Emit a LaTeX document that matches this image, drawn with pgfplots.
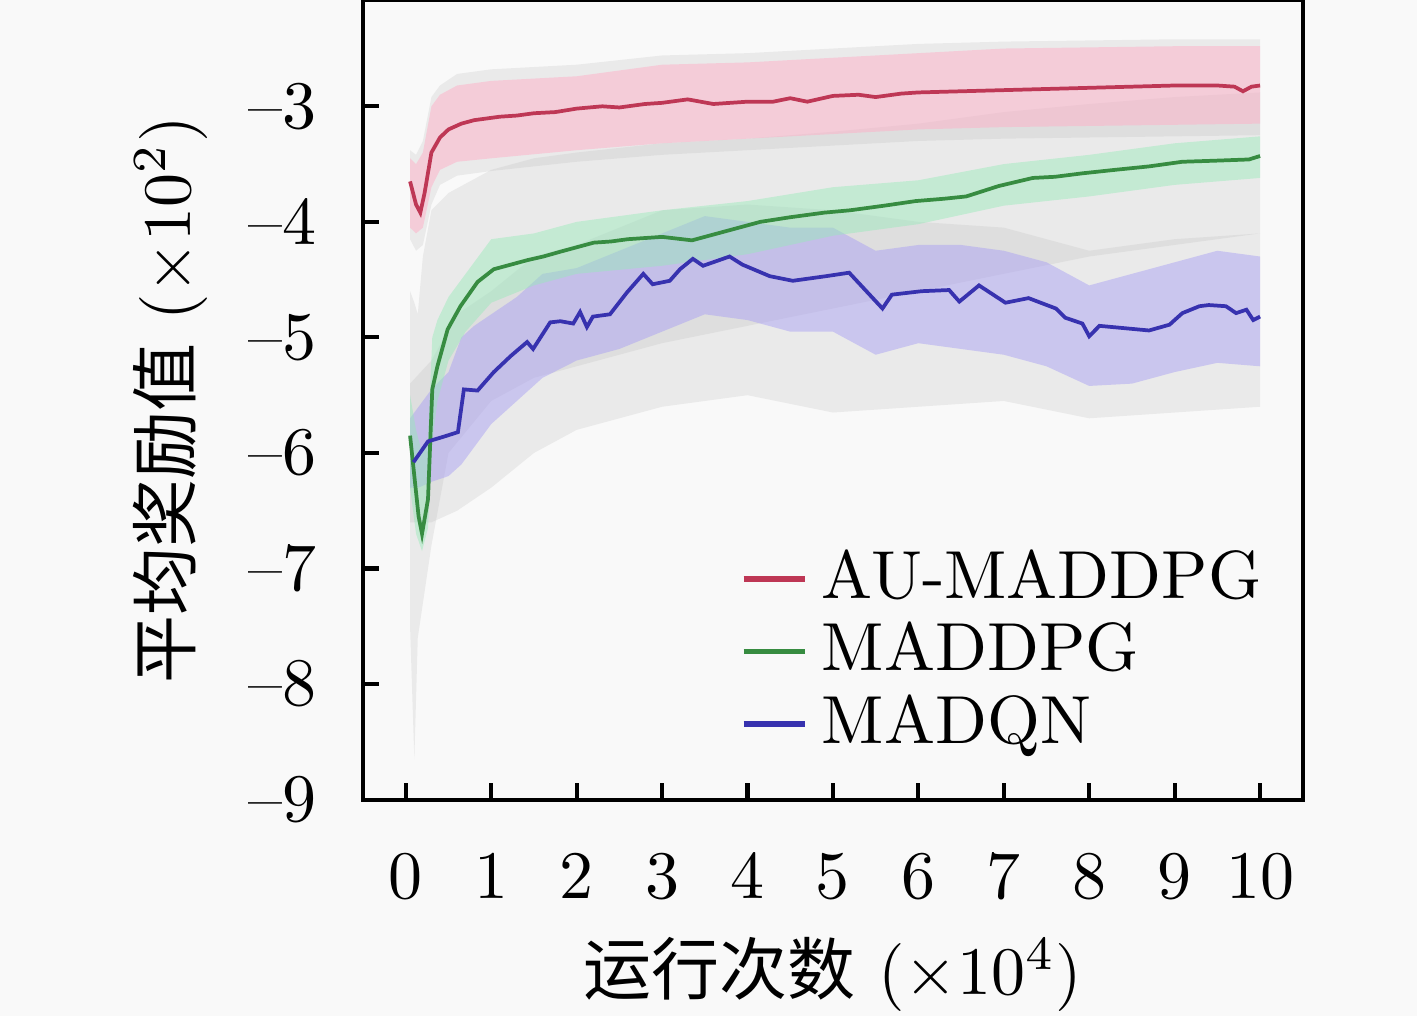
\documentclass[border=0pt]{standalone}
\usepackage{fontspec}
\usepackage{xcolor}
\usepackage{pgfplots}
\usepackage{pgfplotstable}
\pgfplotsset{compat=1.18}
\usepgfplotslibrary{fillbetween}
\newfontfamily\cjk{Noto Sans CJK SC}
\definecolor{bgc}{RGB}{249,249,249}
\definecolor{noise}{RGB}{190,190,190}
\definecolor{pinkb}{RGB}{255,175,200}
\definecolor{greenb}{RGB}{150,235,185}
\definecolor{lavb}{RGB}{165,155,245}
\definecolor{redl}{RGB}{190,55,85}
\definecolor{greenl}{RGB}{55,140,65}
\definecolor{bluel}{RGB}{55,50,175}
\pagecolor{bgc}

% AU-MADDPG
\pgfplotstableread{
x y
0.05 -3.65
0.12 -3.85
0.17 -3.92
0.22 -3.75
0.3 -3.40
0.4 -3.27
0.5 -3.20
0.65 -3.15
0.8 -3.12
1.1 -3.09
1.3 -3.08
1.5 -3.06
1.75 -3.05
2.0 -3.02
2.3 -3.00
2.5 -3.01
2.8 -2.98
3.0 -2.97
3.3 -2.94
3.6 -2.98
4.0 -2.96
4.3 -2.96
4.5 -2.93
4.7 -2.96
5.0 -2.91
5.3 -2.90
5.5 -2.92
5.8 -2.89
6.0 -2.88
6.5 -2.87
7.0 -2.86
7.5 -2.85
8.0 -2.84
8.5 -2.83
9.0 -2.82
9.5 -2.82
9.7 -2.83
9.8 -2.87
9.9 -2.83
10.0 -2.82
}\aumean
\pgfplotstableread{
x lo hi
0.05 -4.05 -3.45
0.12 -4.10 -3.50
0.2 -4.05 -3.40
0.3 -3.70 -3.00
0.4 -3.55 -2.90
0.6 -3.48 -2.82
1.0 -3.45 -2.78
2.0 -3.38 -2.74
3.0 -3.32 -2.64
4.0 -3.28 -2.62
5.0 -3.24 -2.58
6.0 -3.20 -2.54
7.0 -3.18 -2.50
8.0 -3.17 -2.49
9.0 -3.16 -2.48
10.0 -3.15 -2.48
}\auband
\pgfplotstableread{
x lo hi
0.05 -4.15 -3.38
0.12 -4.25 -3.42
0.2 -4.2 -3.3
0.3 -3.85 -2.92
0.4 -3.68 -2.82
0.6 -3.60 -2.72
1.0 -3.56 -2.68
2.0 -3.48 -2.64
3.0 -3.42 -2.56
4.0 -3.38 -2.54
5.0 -3.34 -2.50
6.0 -3.30 -2.46
7.0 -3.28 -2.44
8.0 -3.27 -2.43
9.0 -3.26 -2.42
10.0 -3.25 -2.42
}\augray

% MADDPG
\pgfplotstableread{
x y
0.05 -5.85
0.1 -6.2
0.15 -6.55
0.19 -6.70
0.26 -6.40
0.31 -5.45
0.37 -5.25
0.49 -4.93
0.64 -4.73
0.84 -4.52
1.03 -4.41
1.23 -4.37
1.43 -4.33
1.61 -4.30
1.8 -4.26
2.0 -4.22
2.2 -4.18
2.4 -4.17
2.6 -4.15
3.0 -4.13
3.35 -4.16
3.75 -4.08
4.15 -4.00
4.5 -3.96
4.9 -3.92
5.2 -3.90
5.6 -3.86
5.97 -3.82
6.3 -3.80
6.56 -3.78
6.94 -3.69
7.34 -3.62
7.6 -3.61
7.92 -3.58
8.3 -3.55
8.7 -3.52
9.09 -3.48
9.5 -3.47
9.87 -3.46
10.0 -3.43
}\mdmean
\pgfplotstableread{
x lo hi
0.05 -6.3 -5.5
0.12 -6.7 -5.8
0.19 -6.85 -6.0
0.26 -6.65 -5.9
0.31 -5.9 -5.0
0.37 -5.55 -4.85
0.5 -5.2 -4.65
0.7 -4.95 -4.45
1.0 -4.70 -4.15
1.5 -4.55 -4.10
2.0 -4.45 -4.00
3.0 -4.38 -3.90
4.0 -4.28 -3.82
5.0 -4.12 -3.70
6.0 -4.02 -3.64
7.0 -3.86 -3.50
8.0 -3.78 -3.42
9.0 -3.68 -3.32
10.0 -3.62 -3.26
}\mdband
\pgfplotstableread{
x lo hi
0.05 -7.5 -4.6
0.1 -8.65 -4.7
0.14 -7.6 -4.8
0.2 -7.3 -4.3
0.3 -6.8 -3.9
0.5 -6.0 -3.75
1.0 -5.55 -3.55
1.5 -5.35 -3.45
2.0 -5.25 -3.40
3.0 -5.05 -3.32
4.0 -4.90 -3.28
5.0 -4.75 -3.22
6.0 -4.60 -3.15
7.0 -4.45 -3.05
8.0 -4.30 -2.98
9.0 -4.20 -2.92
10.0 -4.10 -2.88
}\mdgray

% MADQN
\pgfplotstableread{
x y
0.09 -6.08
0.26 -5.90
0.44 -5.86
0.61 -5.82
0.68 -5.45
0.84 -5.46
1.03 -5.30
1.23 -5.16
1.42 -5.04
1.49 -5.10
1.69 -4.87
1.81 -4.86
1.96 -4.88
2.04 -4.78
2.12 -4.91
2.19 -4.82
2.39 -4.80
2.59 -4.61
2.78 -4.45
2.89 -4.54
3.09 -4.51
3.21 -4.41
3.36 -4.32
3.48 -4.38
3.79 -4.30
3.94 -4.37
4.26 -4.47
4.53 -4.51
4.92 -4.47
5.19 -4.44
5.58 -4.75
5.69 -4.63
6.04 -4.60
6.36 -4.59
6.48 -4.69
6.71 -4.55
7.02 -4.70
7.29 -4.66
7.61 -4.75
7.72 -4.83
7.92 -4.88
8.00 -4.99
8.12 -4.90
8.70 -4.94
8.94 -4.89
9.09 -4.79
9.29 -4.73
9.40 -4.72
9.60 -4.73
9.72 -4.79
9.84 -4.76
9.92 -4.85
10.0 -4.82
}\mqmean
\pgfplotstableread{
x lo hi
0.05 -6.3 -5.7
0.15 -6.3 -5.6
0.3 -6.25 -5.45
0.5 -6.2 -5.3
0.65 -6.1 -5.0
0.8 -5.95 -4.9
1.0 -5.75 -4.8
1.3 -5.55 -4.65
1.6 -5.35 -4.45
2.0 -5.2 -4.4
2.5 -5.1 -4.25
3.0 -4.95 -4.1
3.5 -4.8 -3.95
4.0 -4.85 -4.0
4.5 -4.95 -4.05
5.0 -4.95 -4.05
5.5 -5.15 -4.25
6.0 -5.05 -4.2
6.5 -5.1 -4.2
7.0 -5.15 -4.25
7.5 -5.25 -4.35
8.0 -5.42 -4.55
8.5 -5.40 -4.45
9.0 -5.30 -4.35
9.5 -5.22 -4.25
10.0 -5.25 -4.3
}\mqband
\pgfplotstableread{
x lo hi
0.05 -6.6 -5.4
0.3 -6.6 -5.2
0.6 -6.5 -4.8
1.0 -6.3 -4.6
1.5 -6.0 -4.3
2.0 -5.8 -4.2
3.0 -5.6 -3.9
4.0 -5.5 -3.85
5.0 -5.65 -3.9
6.0 -5.6 -4.0
7.0 -5.55 -4.05
8.0 -5.7 -4.25
9.0 -5.65 -4.15
10.0 -5.6 -4.1
}\mqgray

\begin{document}
\begin{tikzpicture}
\begin{axis}[
  at={(0pt,0pt)}, anchor=south west,
  scale only axis, width=138.2pt, height=117.6pt,
  xmin=-0.5, xmax=10.5, ymin=-9, ymax=-2.08,
  xtick={0,1,...,10}, ytick={-9,-8,...,-3},
  yticklabels={{\textendash}9,{\textendash}8,{\textendash}7,{\textendash}6,{\textendash}5,{\textendash}4,{\textendash}3},
  tick align=inside, xtick pos=bottom, ytick pos=left,
  major tick length=2.4pt,
  tick style={line width=0.6pt, black},
  axis line style={line width=0.6pt},
  xticklabel style={yshift=-4.5pt},
  yticklabel style={xshift=-3.3pt},
  xlabel={{\cjk 运行次数} ($\times 10^4$)},
  ylabel={{\cjk 平均奖励值} ($\times 10^2$)},
  x label style={at={(axis description cs:0.5,-0.2185)}, anchor=center},
  y label style={at={(axis description cs:-0.2055,0.5)}, anchor=center},
  legend cell align=left,
  legend style={draw=none, fill=none, at={(axis description cs:0.379,0.34)}, anchor=north west,
    nodes={inner sep=1pt, text depth=0.15em},
    /tikz/every odd column/.append style={column sep=1.1pt}},
  legend image code/.code={
    \draw[#1, line width=0.8pt] (0pt,0pt) -- (9pt,0pt);
  },
]
% raw-noise envelopes
\addplot[name path=mgL, draw=none, forget plot] table[x=x,y=lo]{\mqgray};
\addplot[name path=mgH, draw=none, forget plot] table[x=x,y=hi]{\mqgray};
\addplot[fill=noise, fill opacity=0.25, draw=none, forget plot] fill between[of=mgL and mgH];
\addplot[name path=dgL, draw=none, forget plot] table[x=x,y=lo]{\mdgray};
\addplot[name path=dgH, draw=none, forget plot] table[x=x,y=hi]{\mdgray};
\addplot[fill=noise, fill opacity=0.25, draw=none, forget plot] fill between[of=dgL and dgH];
\addplot[name path=agL, draw=none, forget plot] table[x=x,y=lo]{\augray};
\addplot[name path=agH, draw=none, forget plot] table[x=x,y=hi]{\augray};
\addplot[fill=noise, fill opacity=0.25, draw=none, forget plot] fill between[of=agL and agH];
% std bands
\addplot[name path=mbL, draw=none, forget plot] table[x=x,y=lo]{\mqband};
\addplot[name path=mbH, draw=none, forget plot] table[x=x,y=hi]{\mqband};
\addplot[fill=lavb, fill opacity=0.45, draw=none, forget plot] fill between[of=mbL and mbH];
\addplot[name path=dbL, draw=none, forget plot] table[x=x,y=lo]{\mdband};
\addplot[name path=dbH, draw=none, forget plot] table[x=x,y=hi]{\mdband};
\addplot[fill=greenb, fill opacity=0.45, draw=none, forget plot] fill between[of=dbL and dbH];
\addplot[name path=abL, draw=none, forget plot] table[x=x,y=lo]{\auband};
\addplot[name path=abH, draw=none, forget plot] table[x=x,y=hi]{\auband};
\addplot[fill=pinkb, fill opacity=0.5, draw=none, forget plot] fill between[of=abL and abH];
% means
\addplot[redl, line width=0.55pt] table[x=x,y=y]{\aumean};
\addlegendentry{AU-MADDPG}
\addplot[greenl, line width=0.55pt] table[x=x,y=y]{\mdmean};
\addlegendentry{MADDPG}
\addplot[bluel, line width=0.55pt] table[x=x,y=y]{\mqmean};
\addlegendentry{MADQN}
\end{axis}
\pgfresetboundingbox
\path (-53.4pt,-31.8pt) rectangle (155pt,117.6pt);
\end{tikzpicture}
\end{document}
